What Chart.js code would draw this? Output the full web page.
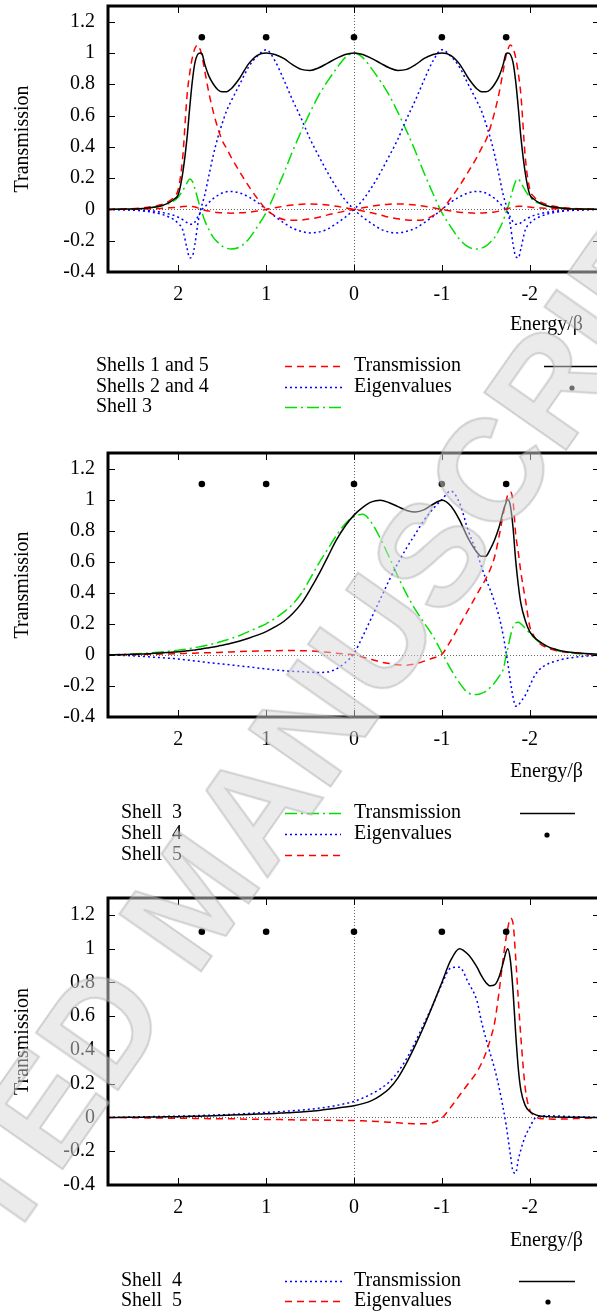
<!DOCTYPE html>
<html>
<head>
<meta charset="utf-8">
<script src="https://cdn.jsdelivr.net/npm/chart.js@4.4.1/dist/chart.umd.min.js"></script>
<style>
  html, body { margin: 0; padding: 0; background: #fff; width: 597px; height: 1314px; overflow: hidden; }
  canvas { position: absolute; left: 0; }
  #wm {
    position: absolute; left: 192px; top: 898px;
    transform: translate(-50%, -50%) rotate(-55deg);
    font: bold 145px "Liberation Sans", Arial, sans-serif;
    line-height: 1; white-space: nowrap; pointer-events: none;
    color: rgba(215, 215, 215, 0.5);
    -webkit-text-stroke: 2px rgba(165, 165, 165, 0.45);
  }
</style>
</head>
<body>
<canvas id="c1" width="620" height="430" style="top:0px"></canvas>
<canvas id="c2" width="620" height="430" style="top:440px"></canvas>
<canvas id="c3" width="620" height="434" style="top:880px"></canvas>
<div id="wm">ACCEPTED MANUSCRIPT</div>
<script>
// energy grid (E/beta), shared by all three panels
const energy = [
  2.8, 2.6, 2.4, 2.3, 2.2, 2.1, 2.05, 2.0, 1.95, 1.9,
  1.87, 1.84, 1.81, 1.78, 1.75, 1.73, 1.7, 1.65, 1.6, 1.55,
  1.5, 1.45, 1.4, 1.3, 1.2, 1.1, 1.0, 0.9, 0.8, 0.7,
  0.6, 0.5, 0.4, 0.3, 0.2, 0.1, 0, -0.1, -0.2, -0.3,
  -0.4, -0.5, -0.6, -0.7, -0.8, -0.9, -1.0, -1.1, -1.2, -1.3,
  -1.4, -1.45, -1.5, -1.55, -1.6, -1.65, -1.7, -1.73, -1.75, -1.78,
  -1.81, -1.84, -1.87, -1.9, -1.95, -2.0, -2.05, -2.1, -2.2, -2.3,
  -2.4, -2.6, -2.8
];

const eigenE = [1.732, 1, 0, -1, -1.732];
const eigenT = [1.1, 1.1, 1.1, 1.1, 1.1];

const xTicks = [2, 1, 0, -1, -2];
const yTicks = [-0.4, -0.2, 0, 0.2, 0.4, 0.6, 0.8, 1, 1.2];

// panel 1 : all shells
const p1Total = [
  0, 0.002, 0.006, 0.012, 0.022, 0.045, 0.065, 0.095, 0.23, 0.46,
  0.65, 0.82, 0.94, 0.99, 1.0, 0.995, 0.93, 0.85, 0.80, 0.765,
  0.752, 0.752, 0.77, 0.84, 0.93, 0.985, 1.0, 0.99, 0.965, 0.925,
  0.895, 0.888, 0.905, 0.935, 0.965, 0.99, 1.0, 0.99, 0.965, 0.935,
  0.905, 0.888, 0.895, 0.925, 0.965, 0.99, 1.0, 0.985, 0.93, 0.84,
  0.77, 0.752, 0.752, 0.765, 0.80, 0.85, 0.93, 0.995, 1.0, 0.99,
  0.94, 0.82, 0.65, 0.46, 0.23, 0.095, 0.065, 0.045, 0.022, 0.012,
  0.006, 0.002, 0
];
const p1Shell1 = [
  0, 0.003, 0.01, 0.018, 0.03, 0.055, 0.08, 0.13, 0.33, 0.73,
  0.87, 0.97, 1.03, 1.05, 1.02, 0.98, 0.89, 0.74, 0.62, 0.52,
  0.44, 0.39, 0.335, 0.24, 0.15, 0.07, 0.0, -0.04, -0.065, -0.07,
  -0.068, -0.06, -0.05, -0.035, -0.022, -0.01, 0, 0.01, 0.02, 0.028,
  0.033, 0.035, 0.033, 0.028, 0.02, 0.01, 0.0, -0.01, -0.018, -0.022,
  -0.024, -0.023, -0.022, -0.02, -0.016, -0.011, -0.005, 0.0, 0.004, 0.01,
  0.015, 0.018, 0.02, 0.02, 0.018, 0.015, 0.012, 0.01, 0.006, 0.004,
  0.002, 0.001, 0
];
const p1Shell5 = [
  0, 0.001, 0.002, 0.004, 0.006, 0.01, 0.012, 0.015, 0.018, 0.02,
  0.02, 0.018, 0.015, 0.01, 0.004, 0.0, -0.005, -0.011, -0.016, -0.02,
  -0.022, -0.023, -0.024, -0.022, -0.018, -0.01, 0.0, 0.01, 0.02, 0.028,
  0.033, 0.035, 0.033, 0.028, 0.02, 0.01, 0, -0.01, -0.022, -0.035,
  -0.05, -0.06, -0.068, -0.07, -0.065, -0.04, 0.0, 0.07, 0.15, 0.24,
  0.335, 0.39, 0.44, 0.52, 0.62, 0.74, 0.89, 0.98, 1.02, 1.05,
  1.03, 0.97, 0.87, 0.73, 0.33, 0.13, 0.08, 0.055, 0.03, 0.018,
  0.01, 0.003, 0
];
const p1Shell2 = [
  0, -0.003, -0.01, -0.018, -0.03, -0.05, -0.065, -0.09, -0.13, -0.25,
  -0.31, -0.3, -0.22, -0.1, -0.01, 0.03, 0.09, 0.22, 0.35, 0.46,
  0.55, 0.63, 0.69, 0.80, 0.91, 0.98, 1.02, 0.95, 0.83, 0.70,
  0.58, 0.45, 0.34, 0.235, 0.14, 0.06, 0, -0.05, -0.09, -0.125,
  -0.145, -0.15, -0.14, -0.12, -0.085, -0.045, 0.0, 0.045, 0.08, 0.105,
  0.115, 0.113, 0.105, 0.09, 0.07, 0.045, 0.015, 0.0, -0.02, -0.05,
  -0.08, -0.095, -0.095, -0.085, -0.065, -0.05, -0.038, -0.03, -0.018, -0.01,
  -0.006, -0.002, 0
];
const p1Shell4 = [
  0, -0.002, -0.006, -0.01, -0.018, -0.03, -0.038, -0.05, -0.065, -0.085,
  -0.095, -0.095, -0.08, -0.05, -0.02, 0.0, 0.015, 0.045, 0.07, 0.09,
  0.105, 0.113, 0.115, 0.105, 0.08, 0.045, 0.0, -0.045, -0.085, -0.12,
  -0.14, -0.15, -0.145, -0.125, -0.09, -0.05, 0, 0.06, 0.14, 0.235,
  0.34, 0.45, 0.58, 0.70, 0.83, 0.95, 1.02, 0.98, 0.91, 0.80,
  0.69, 0.63, 0.55, 0.46, 0.35, 0.22, 0.09, 0.03, -0.01, -0.1,
  -0.22, -0.3, -0.31, -0.25, -0.13, -0.09, -0.065, -0.05, -0.03, -0.018,
  -0.01, -0.003, 0
];
const p1Shell3 = [
  0, 0.002, 0.007, 0.013, 0.022, 0.04, 0.055, 0.08, 0.12, 0.17,
  0.195, 0.18, 0.13, 0.07, 0.01, -0.02, -0.07, -0.13, -0.18, -0.21,
  -0.235, -0.248, -0.253, -0.24, -0.19, -0.11, -0.02, 0.1, 0.23, 0.37,
  0.5, 0.62, 0.73, 0.82, 0.9, 0.97, 1.0, 0.97, 0.9, 0.82,
  0.73, 0.62, 0.5, 0.37, 0.23, 0.1, -0.02, -0.11, -0.19, -0.24,
  -0.253, -0.248, -0.235, -0.21, -0.18, -0.13, -0.07, -0.02, 0.01, 0.07,
  0.13, 0.18, 0.195, 0.17, 0.12, 0.08, 0.055, 0.04, 0.022, 0.013,
  0.007, 0.002, 0
];

// panel 2 : shells 3, 4, 5
const p2Total = [
  0, 0.002, 0.006, 0.009, 0.012, 0.016, 0.018, 0.02, 0.023, 0.026,
  0.028, 0.03, 0.032, 0.035, 0.037, 0.039, 0.042, 0.046, 0.051, 0.056,
  0.062, 0.068, 0.075, 0.09, 0.107, 0.127, 0.15, 0.18, 0.215, 0.265,
  0.33, 0.42, 0.52, 0.63, 0.74, 0.83, 0.9, 0.95, 0.985, 0.995,
  0.98, 0.955, 0.93, 0.92, 0.935, 0.97, 0.995, 0.96, 0.87, 0.75,
  0.66, 0.635, 0.635, 0.68, 0.74, 0.82, 0.93, 0.98, 1.0, 0.96,
  0.82, 0.61, 0.45, 0.33, 0.22, 0.15, 0.115, 0.09, 0.055, 0.035,
  0.022, 0.01, 0.003
];
const p2Shell3 = [
  0, 0.004, 0.01, 0.014, 0.019, 0.024, 0.027, 0.03, 0.034, 0.038,
  0.041, 0.044, 0.047, 0.05, 0.053, 0.055, 0.059, 0.065, 0.072, 0.08,
  0.088, 0.096, 0.105, 0.125, 0.15, 0.175, 0.2, 0.235, 0.275, 0.325,
  0.395, 0.49, 0.59, 0.68, 0.77, 0.845, 0.89, 0.905, 0.85, 0.75,
  0.63, 0.505, 0.39, 0.29, 0.205, 0.12, 0.015, -0.09, -0.18, -0.245,
  -0.255, -0.248, -0.235, -0.21, -0.18, -0.14, -0.09, -0.01, 0.04, 0.12,
  0.18, 0.205, 0.21, 0.2, 0.17, 0.14, 0.11, 0.085, 0.05, 0.03,
  0.018, 0.006, 0.001
];
const p2Shell4 = [
  0, -0.004, -0.01, -0.014, -0.018, -0.022, -0.024, -0.027, -0.03, -0.033,
  -0.035, -0.037, -0.039, -0.041, -0.043, -0.045, -0.047, -0.05, -0.053, -0.056,
  -0.059, -0.062, -0.065, -0.071, -0.077, -0.084, -0.09, -0.097, -0.102, -0.106,
  -0.108, -0.112, -0.113, -0.11, -0.09, -0.05, 0.01, 0.12, 0.24, 0.36,
  0.48, 0.59, 0.69, 0.78, 0.87, 0.94, 1.0, 1.055, 0.98, 0.8,
  0.655, 0.57, 0.49, 0.42, 0.34, 0.25, 0.12, 0.02, -0.05, -0.17,
  -0.27, -0.33, -0.325, -0.3, -0.26, -0.2, -0.14, -0.1, -0.06, -0.04,
  -0.025, -0.01, -0.003
];
const p2Shell5 = [
  0, 0.001, 0.003, 0.004, 0.005, 0.006, 0.007, 0.008, 0.009, 0.01,
  0.01, 0.011, 0.011, 0.012, 0.012, 0.013, 0.013, 0.014, 0.015, 0.016,
  0.017, 0.018, 0.019, 0.021, 0.023, 0.025, 0.026, 0.027, 0.028, 0.028,
  0.027, 0.025, 0.022, 0.017, 0.011, 0.005, 0, -0.015, -0.03, -0.045,
  -0.056, -0.064, -0.066, -0.058, -0.04, -0.02, 0.004, 0.09, 0.19, 0.29,
  0.39, 0.44, 0.49, 0.55, 0.63, 0.76, 0.91, 0.99, 1.03, 1.05,
  0.99, 0.78, 0.66, 0.53, 0.36, 0.185, 0.12, 0.08, 0.045, 0.028,
  0.018, 0.008, 0.002
];

// panel 3 : shells 4, 5
const p3Total = [
  0, 0.001, 0.002, 0.003, 0.0035, 0.004, 0.0045, 0.005, 0.0055, 0.006,
  0.0065, 0.007, 0.0072, 0.0075, 0.0078, 0.008, 0.0085, 0.009, 0.01, 0.011,
  0.012, 0.013, 0.014, 0.016, 0.018, 0.02, 0.022, 0.024, 0.027, 0.03,
  0.032, 0.037, 0.042, 0.048, 0.055, 0.062, 0.07, 0.082, 0.1, 0.13,
  0.17, 0.235, 0.325, 0.43, 0.545, 0.67, 0.8, 0.93, 1.0, 0.965,
  0.89, 0.84, 0.8, 0.78, 0.785, 0.83, 0.92, 0.98, 1.0, 0.93,
  0.75, 0.5, 0.29, 0.16, 0.07, 0.035, 0.02, 0.01, 0.005, 0.003,
  0.002, 0.001, 0
];
const p3Shell4 = [
  0, 0.002, 0.004, 0.005, 0.006, 0.007, 0.0075, 0.008, 0.0085, 0.009,
  0.0095, 0.01, 0.0105, 0.011, 0.0115, 0.012, 0.0125, 0.013, 0.014, 0.015,
  0.016, 0.017, 0.018, 0.021, 0.024, 0.027, 0.03, 0.033, 0.036, 0.04,
  0.044, 0.049, 0.055, 0.062, 0.071, 0.082, 0.095, 0.115, 0.14, 0.17,
  0.21, 0.27, 0.35, 0.45, 0.56, 0.67, 0.79, 0.885, 0.89, 0.8,
  0.69, 0.57, 0.47, 0.38, 0.29, 0.18, 0.05, -0.04, -0.11, -0.22,
  -0.32, -0.33, -0.25, -0.19, -0.11, -0.06, -0.01, 0.005, 0.01, 0.009,
  0.007, 0.003, 0.001
];
const p3Shell5 = [
  0, -0.001, -0.002, -0.003, -0.003, -0.004, -0.004, -0.004, -0.005, -0.005,
  -0.005, -0.005, -0.006, -0.006, -0.006, -0.006, -0.006, -0.007, -0.007, -0.007,
  -0.008, -0.008, -0.008, -0.009, -0.01, -0.011, -0.012, -0.012, -0.013, -0.014,
  -0.015, -0.015, -0.016, -0.017, -0.017, -0.018, -0.018, -0.02, -0.022, -0.025,
  -0.028, -0.032, -0.035, -0.037, -0.037, -0.03, -0.004, 0.06, 0.13, 0.2,
  0.27, 0.32, 0.38, 0.46, 0.56, 0.74, 0.95, 1.06, 1.12, 1.18,
  1.15, 0.95, 0.7, 0.47, 0.17, 0.046, 0.01, -0.004, -0.008, -0.01,
  -0.009, -0.005, -0.002
];

const serif = '"Liberation Serif", "Times New Roman", serif';
Chart.defaults.font.family = serif;
Chart.defaults.font.size = 20;
Chart.defaults.color = '#000';

const RED = { color: '#ff0000', dash: [7, 5] };
const BLUE = { color: '#0000ff', dash: [2, 3] };
const GREEN = { color: '#00e000', dash: [12, 4, 2, 4] };

function curve(ys, st) {
  return {
    data: energy.map((e, i) => ({ x: e, y: ys[i] })),
    borderColor: st.color,
    borderDash: st.dash,
    borderWidth: 1.5,
    showLine: true,
    pointRadius: 0,
    pointHoverRadius: 0,
    cubicInterpolationMode: 'monotone'
  };
}
function total(ys) {
  return curve(ys, { color: '#000', dash: [] });
}
function dots() {
  return {
    data: eigenE.map((e, i) => ({ x: e, y: eigenT[i] })),
    pointRadius: 3.3,
    pointBackgroundColor: '#000',
    pointBorderWidth: 0,
    showLine: false
  };
}

// layout of each panel's key (canvas coordinates)
const keys = {
  c1: {
    energyY: 325, textX: 96, sample: [285, 342], lineKey: [544, 600], dotX: 572,
    rows: [[366, 'Shells 1 and 5', RED], [387, 'Shells 2 and 4', BLUE], [407, 'Shell 3', GREEN]]
  },
  c2: {
    energyY: 332, textX: 121, sample: [285, 341], lineKey: [520, 575], dotX: 547,
    rows: [[373, 'Shell  3', GREEN], [394, 'Shell  4', BLUE], [415, 'Shell  5', RED]]
  },
  c3: {
    energyY: 361, textX: 121, sample: [285, 342], lineKey: [519, 575], dotX: 548,
    rows: [[401, 'Shell  4', BLUE], [421, 'Shell  5', RED]]
  }
};

const frame = {
  id: 'frame',
  beforeDatasetsDraw(chart) {
    const { ctx, chartArea: a, scales: { x, y } } = chart;
    const y0 = Math.round(y.getPixelForValue(0)) + 0.5;
    const x0 = Math.round(x.getPixelForValue(0)) + 0.5;
    ctx.save();
    ctx.lineWidth = 1;
    ctx.setLineDash([1, 2]);
    ctx.strokeStyle = '#666';
    ctx.beginPath();
    ctx.moveTo(a.left, y0); ctx.lineTo(a.right, y0);
    ctx.moveTo(x0, a.top); ctx.lineTo(x0, a.bottom);
    ctx.stroke();
    ctx.restore();
  },
  afterDatasetsDraw(chart) {
    const { ctx, chartArea: a, scales: { x, y } } = chart;
    ctx.save();
    ctx.strokeStyle = '#000';
    ctx.lineWidth = 1;
    ctx.beginPath();
    xTicks.forEach(v => {
      const px = Math.round(x.getPixelForValue(v)) + 0.5;
      ctx.moveTo(px, a.bottom); ctx.lineTo(px, a.bottom - 7);
      ctx.moveTo(px, a.top); ctx.lineTo(px, a.top + 7);
    });
    yTicks.forEach(v => {
      const py = Math.round(y.getPixelForValue(v)) + 0.5;
      ctx.moveTo(a.left, py); ctx.lineTo(a.left + 7, py);
      ctx.moveTo(a.right, py); ctx.lineTo(a.right - 7, py);
    });
    ctx.stroke();
    ctx.lineWidth = 3;
    ctx.strokeRect(a.left, a.top, a.right - a.left, a.bottom - a.top);
    ctx.restore();
  },
  afterDraw(chart) {
    const { ctx, chartArea: a } = chart;
    const k = keys[chart.canvas.id];
    ctx.save();
    ctx.fillStyle = '#000';
    ctx.font = '20px ' + serif;
    ctx.textBaseline = 'middle';

    // y title
    ctx.save();
    ctx.translate(23, (a.top + a.bottom) / 2);
    ctx.rotate(-Math.PI / 2);
    ctx.textAlign = 'center';
    ctx.fillText('Transmission', 0, 0);
    ctx.restore();

    // x title
    ctx.textAlign = 'right';
    ctx.fillText('Energy/\u03b2', 583, k.energyY);

    // key
    ctx.textAlign = 'left';
    k.rows.forEach(([ry, label, st]) => {
      ctx.fillText(label, k.textX, ry);
      ctx.save();
      ctx.strokeStyle = st.color;
      ctx.lineWidth = 1.5;
      ctx.setLineDash(st.dash);
      ctx.beginPath();
      ctx.moveTo(k.sample[0], ry + 0.5); ctx.lineTo(k.sample[1], ry + 0.5);
      ctx.stroke();
      ctx.restore();
    });
    const r1 = k.rows[0][0], r2 = k.rows[1][0];
    ctx.fillText('Transmission', 354, r1);
    ctx.fillText('Eigenvalues', 354, r2);
    ctx.lineWidth = 1.5;
    ctx.beginPath();
    ctx.moveTo(k.lineKey[0], r1 + 0.5); ctx.lineTo(k.lineKey[1], r1 + 0.5);
    ctx.stroke();
    ctx.beginPath();
    ctx.arc(k.dotX, r2 + 1, 2.6, 0, Math.PI * 2);
    ctx.fill();
    ctx.restore();
  }
};

function fmt(v) {
  const r = Math.round(v * 10) / 10;
  return r === 0 ? '0' : String(r);
}

function makeChart(id, padTop, padBottom, datasets) {
  return new Chart(document.getElementById(id), {
    type: 'scatter',
    data: { datasets },
    options: {
      responsive: false,
      animation: false,
      events: [],
      layout: { autoPadding: false, padding: { top: padTop, bottom: padBottom, left: 0, right: 20 } },
      plugins: { legend: { display: false }, tooltip: { enabled: false } },
      scales: {
        x: {
          type: 'linear', min: -2.8, max: 2.8, reverse: true,
          grid: { display: false, drawTicks: false },
          border: { display: false },
          afterBuildTicks: s => { s.ticks = xTicks.map(v => ({ value: v })); },
          afterFit: s => { s.height = 40; s.paddingLeft = 0; s.paddingRight = 0; },
          ticks: { padding: 11, maxRotation: 0, autoSkip: false, callback: fmt }
        },
        y: {
          type: 'linear', min: -0.4, max: 1.3,
          grid: { display: false, drawTicks: false },
          border: { display: false },
          afterBuildTicks: s => { s.ticks = yTicks.map(v => ({ value: v })); },
          afterFit: s => { s.width = 108; s.paddingTop = 0; s.paddingBottom = 0; },
          ticks: { padding: 13, autoSkip: false, callback: fmt }
        }
      }
    },
    plugins: [frame]
  });
}

// first dataset is drawn on top
makeChart('c1', 6, 118, [
  dots(), total(p1Total),
  curve(p1Shell1, RED), curve(p1Shell5, RED),
  curve(p1Shell2, BLUE), curve(p1Shell4, BLUE),
  curve(p1Shell3, GREEN)
]);
makeChart('c2', 13, 113, [
  dots(), total(p2Total),
  curve(p2Shell5, RED), curve(p2Shell4, BLUE), curve(p2Shell3, GREEN)
]);
makeChart('c3', 18, 89, [
  dots(), total(p3Total),
  curve(p3Shell5, RED), curve(p3Shell4, BLUE)
]);
</script>
</body>
</html>
